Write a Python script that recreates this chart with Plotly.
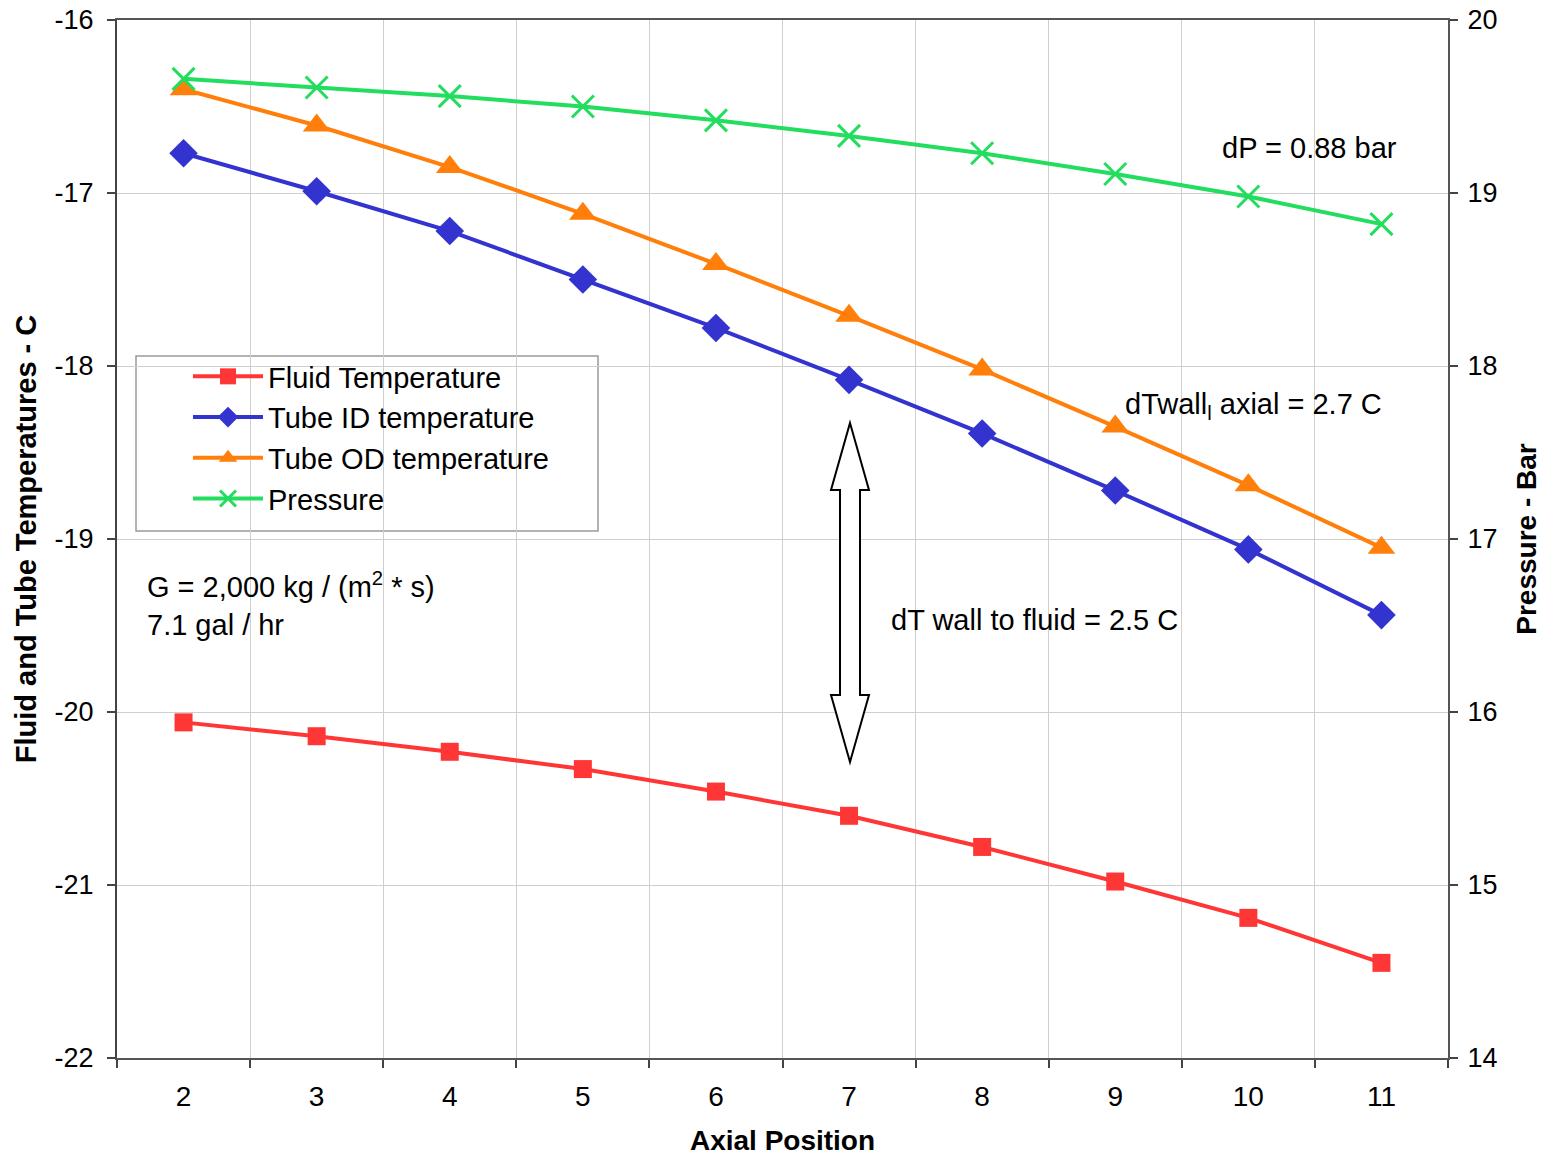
import plotly.graph_objects as go

positions = ["2", "3", "4", "5", "6", "7", "8", "9", "10", "11"]
fluid_temp = [-20.06, -20.14, -20.23, -20.33, -20.46, -20.60, -20.78, -20.98, -21.19, -21.45]
tube_id_temp = [-16.77, -16.99, -17.22, -17.50, -17.78, -18.08, -18.39, -18.72, -19.06, -19.44]
tube_od_temp = [-16.40, -16.61, -16.85, -17.12, -17.41, -17.71, -18.02, -18.35, -18.69, -19.05]
pressure = [19.66, 19.61, 19.56, 19.50, 19.42, 19.33, 19.23, 19.11, 18.98, 18.82]

temp_ticks = [-22, -21, -20, -19, -18, -17, -16]
temp_tick_labels = ["-22", "-21", "-20", "-19", "-18", "-17", "-16"]
pressure_ticks = [14, 15, 16, 17, 18, 19, 20]

FONT = "Liberation Sans, Arial, sans-serif"
OFF = 8  # page body margin
# target plot area in window pixels
X0, X1, Y0, Y1 = 117, 1448, 20, 1058
W, H = 1545 - OFF, 1158 - OFF
L, T = X0 - OFF, Y0 - OFF
R, B = W - (X1 - OFF), H - (Y1 - OFF)
PW, PH = X1 - X0, Y1 - Y0


def px(x):
    return (x - X0) / PW


def py(y):
    return (Y1 - y) / PH


fig = go.Figure()
fig.add_trace(go.Scatter(x=positions, y=fluid_temp, name="Fluid Temperature", legendgroup="a",
                         mode="lines+markers", line=dict(color="#FF3636", width=4),
                         marker=dict(symbol="square", size=18, color="#FF3636")))
fig.add_trace(go.Scatter(x=positions, y=tube_id_temp, name="Tube ID temperature", legendgroup="b",
                         mode="lines+markers", line=dict(color="#3333D0", width=4),
                         marker=dict(symbol="diamond", size=22, color="#3333D0")))
fig.add_trace(go.Scatter(x=positions, y=tube_od_temp, name="Tube OD temperature", legendgroup="c",
                         mode="lines+markers", line=dict(color="#FF7F0A", width=4),
                         marker=dict(symbol="triangle-up", size=24, color="#FF7F0A")))
fig.add_trace(go.Scatter(x=positions, y=pressure, name="Pressure", legendgroup="d", yaxis="y2",
                         mode="lines+markers", line=dict(color="#22DD5E", width=4),
                         marker=dict(symbol="x-thin", size=22, color="#22DD5E",
                                     line=dict(color="#22DD5E", width=3))))

# legend frame
fig.add_shape(type="rect", xref="paper", yref="paper",
              x0=px(136), x1=px(598), y0=py(531), y1=py(356),
              line=dict(color="#9A9A9A", width=1.5), fillcolor="white", layer="below")

# double-headed arrow (outline)
pts = [(850, 423), (869, 490), (860, 490), (860, 695), (869, 695), (850, 762),
       (831, 695), (840, 695), (840, 490), (831, 490)]
path = "M " + " L ".join(f"{px(x):.5f},{py(y):.5f}" for x, y in pts) + " Z"
fig.add_shape(type="path", path=path, xref="paper", yref="paper",
              line=dict(color="black", width=2), fillcolor="white")

ann_font = dict(family=FONT, size=29, color="black")
fig.add_annotation(x=px(1309), y=py(148), xref="paper", yref="paper", text="dP = 0.88 bar",
                   xanchor="center", yanchor="middle", showarrow=False, font=ann_font)
fig.add_annotation(x=px(1253), y=py(406), xref="paper", yref="paper",
                   xanchor="center", yanchor="middle",
                   text="dTwall<sub>l</sub> axial = 2.7 C", showarrow=False, font=ann_font)
fig.add_annotation(x=px(1034), y=py(620), xref="paper", yref="paper",
                   xanchor="center", yanchor="middle",
                   text="dT wall to fluid = 2.5 C", showarrow=False, font=ann_font)
fig.add_annotation(x=px(145), y=py(604), xref="paper", yref="paper", xanchor="left",
                   yanchor="middle", align="left",
                   text="G = 2,000 kg / (m<sup>2</sup> * s)<br>7.1 gal / hr",
                   showarrow=False, font=ann_font)

fig.update_layout(
    width=W, height=H,
    margin=dict(l=L, r=R, t=T, b=B, autoexpand=False),
    paper_bgcolor="white", plot_bgcolor="white",
    font=dict(family=FONT, size=29, color="black"),
    showlegend=True,
    legend=dict(x=px(188), y=py(351), xanchor="left", yanchor="top",
                bgcolor="rgba(0,0,0,0)", borderwidth=0,
                font=dict(family=FONT, size=29, color="black"),
                itemwidth=70, tracegroupgap=21, traceorder="normal"),
    xaxis=dict(type="category", range=[-0.5, 9.5], tickson="boundaries",
               showgrid=True, gridcolor="#CFCFCF", gridwidth=1,
               ticks="outside", ticklen=8, tickcolor="#444", tickwidth=1.5,
               showline=True, linecolor="#555555", linewidth=2, mirror=True,
               ticklabelstandoff=12, automargin=False,
               tickfont=dict(family=FONT, size=28),
               title=dict(text="<b>Axial Position</b>", font=dict(family=FONT, size=28), standoff=20),
               zeroline=False),
    yaxis=dict(range=[-22, -16], tickvals=temp_ticks, ticktext=temp_tick_labels,
               showgrid=True, gridcolor="#CFCFCF", gridwidth=1,
               ticks="outside", ticklen=8, tickcolor="#444", tickwidth=1.5,
               showline=True, linecolor="#444444", linewidth=2,
               ticklabelstandoff=8, automargin=False, ticklabeloverflow="allow",
               tickfont=dict(family=FONT, size=27),
               title=dict(text="<b>Fluid and Tube Temperatures - C</b>", font=dict(family=FONT, size=29), standoff=9),
               zeroline=False),
    yaxis2=dict(range=[14, 20], tickvals=pressure_ticks, overlaying="y", side="right", showgrid=False,
                ticks="outside", ticklen=8, tickcolor="#444", tickwidth=1.5,
                showline=True, linecolor="#555555", linewidth=2,
                ticklabelstandoff=4, automargin=False, ticklabeloverflow="allow",
                tickfont=dict(family=FONT, size=27),
                title=dict(text="<b>Pressure - Bar</b>", font=dict(family=FONT, size=28), standoff=20),
                zeroline=False),
)

fig.write_html("out.html")
